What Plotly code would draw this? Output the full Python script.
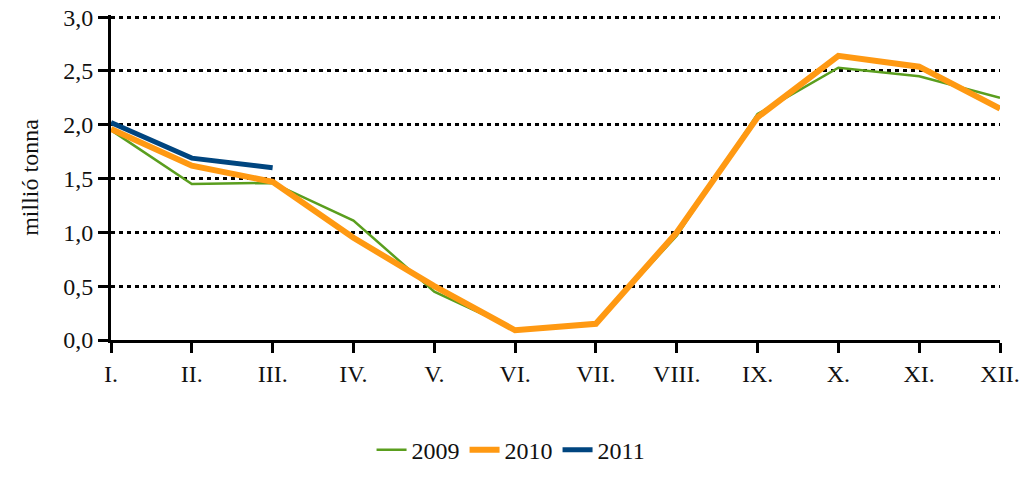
import plotly.graph_objects as go

months = ["I.", "II.", "III.", "IV.", "V.", "VI.", "VII.", "VIII.", "IX.", "X.", "XI.", "XII."]
y2009 = [1.95, 1.45, 1.46, 1.11, 0.45, 0.10, 0.15, 0.97, 2.10, 2.53, 2.45, 2.25]
y2010 = [1.96, 1.62, 1.47, 0.95, 0.50, 0.09, 0.15, 1.00, 2.07, 2.64, 2.54, 2.15]
y2011 = [2.02, 1.69, 1.60]
yticks = [0, 0.5, 1.0, 1.5, 2.0, 2.5, 3.0]

fig = go.Figure()
fig.add_trace(go.Scatter(x=months, y=y2009, mode="lines", name="2009",
                         line=dict(color="#5A9E1E", width=2.5)))
fig.add_trace(go.Scatter(x=months, y=y2010, mode="lines", name="2010",
                         line=dict(color="#FF9912", width=6)))
fig.add_trace(go.Scatter(x=months[:3], y=y2011, mode="lines", name="2011",
                         line=dict(color="#00457F", width=5)))

font = dict(family="Liberation Serif, Times New Roman, serif", size=24, color="#111111")
fig.update_layout(
    width=1030, height=485,
    margin=dict(l=111, r=30, t=15, b=124),
    plot_bgcolor="white", paper_bgcolor="white",
    font=font,
    separators=",.",
    showlegend=True,
    legend=dict(orientation="h", x=0.45, xanchor="center", y=-0.27, yanchor="top",
                font=font, traceorder="normal", itemwidth=30),
    xaxis=dict(type="category", categoryorder="array", categoryarray=months,
               range=[0, 11], showgrid=False, showline=True, linecolor="black", linewidth=3,
               ticks="outside", tickcolor="black", ticklen=10, tickwidth=3,
               tickfont=font, zeroline=False, automargin=False),
    yaxis=dict(range=[0, 3.02], tickvals=yticks,
               tickformat=".1f", showgrid=True,
               gridcolor="black", gridwidth=3, griddash="4px,4px",
               showline=True, linecolor="black", linewidth=3,
               ticks="outside", tickcolor="black", ticklen=10, tickwidth=3,
               tickfont=font, zeroline=False, automargin=False,
               title=dict(text="millió tonna", font=font, standoff=18)),
)
fig.write_html("out.html", config={"displayModeBar": False},
               post_script="document.body.style.margin='0';document.body.style.overflow='hidden';")
